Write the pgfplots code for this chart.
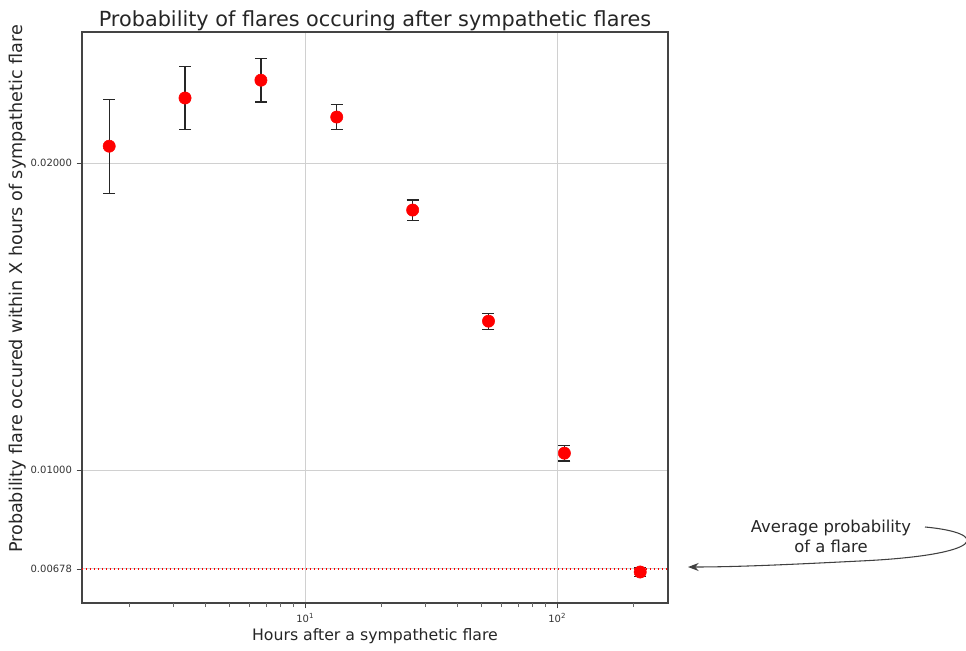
\documentclass[border=0pt]{standalone}
\usepackage{pgfplots}
\pgfplotsset{compat=1.18}
\usepackage{fontspec}
\setmainfont{DejaVu Sans}
\usetikzlibrary{arrows.meta}

\definecolor{gridgray}{HTML}{D0D0D0}
\definecolor{framegray}{HTML}{444444}

\pgfplotstableread{
x      y        e
1.667  0.02055  0.00153
3.333  0.02212  0.00103
6.667  0.02270  0.00071
13.33  0.02150  0.00041
26.67  0.01847  0.00033
53.33  0.01485  0.00026
106.7  0.01055  0.00025
213.3  0.00668  0.00015
}\probs

\begin{document}
\begin{tikzpicture}
\begin{axis}[
  scale only axis, width=439.5pt, height=428.25pt,
  xmode=log, log basis x=10,
  xmin=1.3, xmax=275, ymin=0.00567, ymax=0.02427,
  xtick={10,100}, xticklabels={10\textsuperscript{1},10\textsuperscript{2}},
  extra x ticks={2,3,4,5,6,7,8,9,20,30,40,50,60,70,80,90,200},
  extra x tick labels={},
  extra x tick style={grid=none, major tick length=3pt, tick style={black!60, line width=0.6pt}},
  ytick={0.00678,0.01,0.02},
  yticklabels={0.00678,0.01000,0.02000},
  scaled y ticks=false,
  xtick pos=bottom, ytick pos=left, tick align=outside,
  major tick length=4pt,
  tick style={framegray},
  axis line style={framegray, line width=0.8pt},
  xmajorgrids, ymajorgrids,
  major grid style={gridgray, line width=0.8pt},
  tick label style={font=\fontsize{7.5}{9}\selectfont, text=black!80},
  title={Probability of flares occuring after sympathetic flares},
  title style={font=\fontsize{15.6}{18}\selectfont, text=black!85, at={(0.5,1)}, anchor=south, yshift=-8.5pt},
  xlabel={Hours after a sympathetic flare},
  ylabel={Probability flare occured within X hours of sympathetic flare},
  xlabel style={font=\fontsize{11.8}{14}\selectfont, text=black!85,
    at={(axis description cs:0.5,-0.058)}, anchor=center},
  ylabel style={font=\fontsize{13.2}{15}\selectfont, text=black!85,
    at={(axis description cs:-0.109,0.55)}, anchor=center},
  clip=false,
]
\addplot[red, dotted, line width=1pt] coordinates {(1.3,0.00678) (275,0.00678)};
\addplot[only marks, mark=*, mark size=4.6pt, mark options={draw=red, fill=red},
  error bars/.cd, y dir=both, y explicit,
  error bar style={black!85, line width=1pt},
  error mark options={rotate=90, mark size=4.5pt, black!85, line width=1pt}]
  table[x=x, y=y, y error=e] {\probs};
\end{axis}
\begin{scope}[x=0.75pt, y=-0.75pt, shift={(current axis.south west)}, shift={(-82,-603)}]
  \node[align=center, font=\fontsize{12.3}{15}\selectfont, text=black!85] at (831,536) {Average probability\\of a flare};
  \draw[black!75, line width=0.8pt, -{Stealth[length=8pt, width=6pt]}]
    (925,527) .. controls (990,533) and (988,555) .. (860,561)
    .. controls (800,564) and (740,567) .. (688,567);
  \pgfresetboundingbox
  \path (0,0) rectangle (966,650);
\end{scope}
\end{tikzpicture}
\end{document}
